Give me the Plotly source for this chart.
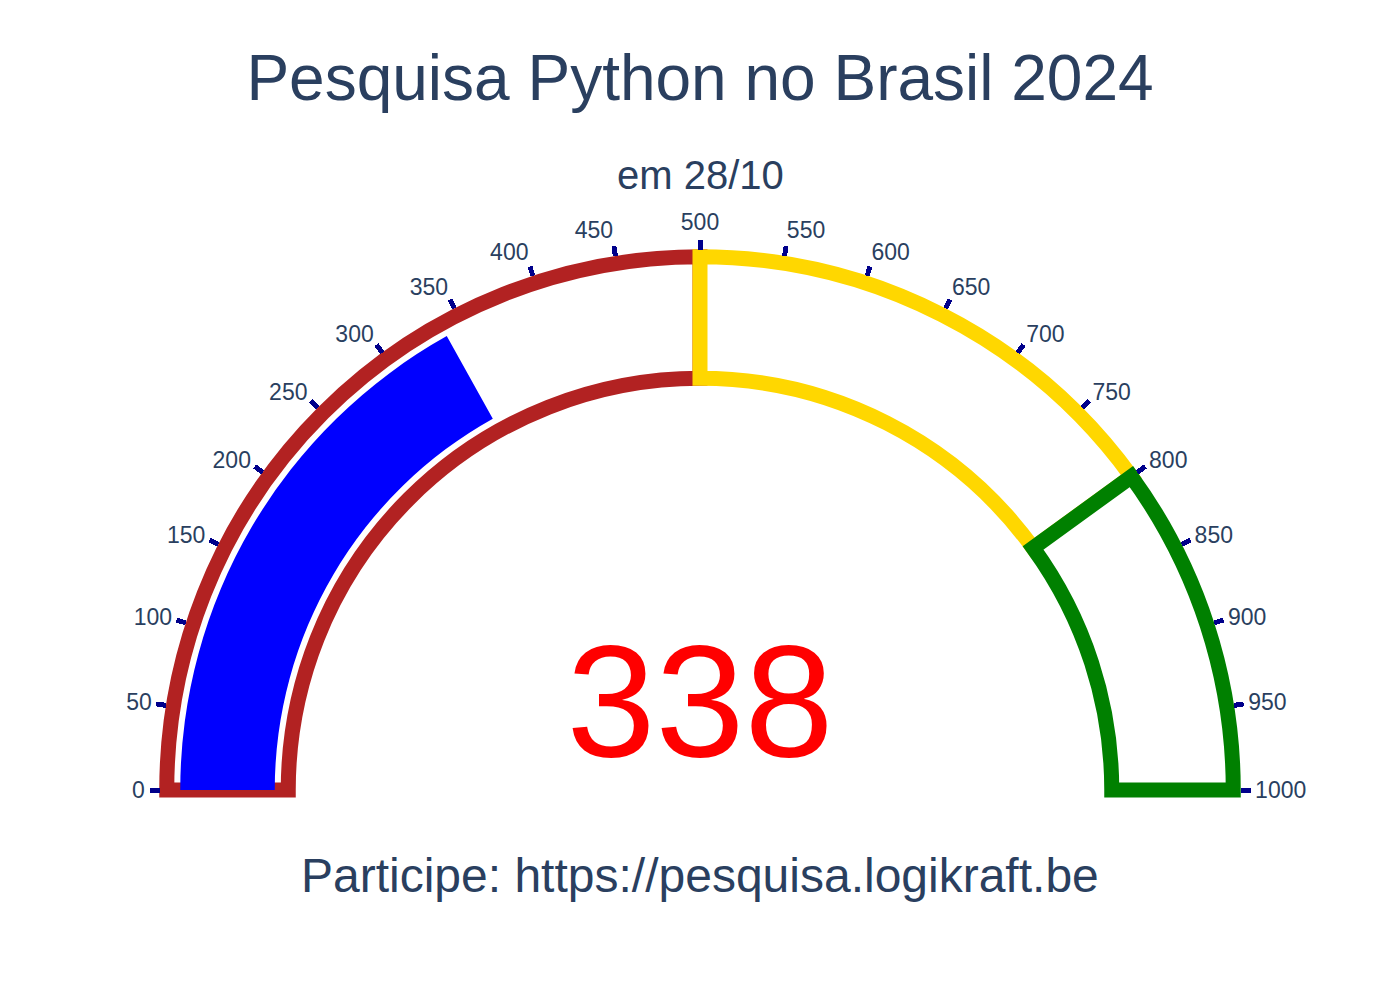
import plotly.graph_objects as go

value = 338
gauge_range = [0, 1000]
step_ranges = [[0, 500], [500, 800], [800, 1000]]
step_colors = ["firebrick", "gold", "green"]
title_text = "Pesquisa Python no Brasil 2024"
subtitle_text = "em 28/10"
footer_text = "Participe: https://pesquisa.logikraft.be"

steps = [dict(range=r, color="white", thickness=0.9, line=dict(color=c, width=15))
         for r, c in zip(step_ranges, step_colors)]

fig = go.Figure(go.Indicator(
    mode="gauge+number",
    value=value,
    number=dict(font=dict(size=160, color="red")),
    gauge=dict(
        axis=dict(range=gauge_range, dtick=50, ticks="outside", ticklen=10,
                  tickwidth=5, tickcolor="darkblue", tickfont=dict(size=23)),
        bar=dict(color="blue", thickness=0.7),
        bgcolor="white",
        borderwidth=0,
        steps=steps,
    ),
))

fig.update_layout(
    width=1384, height=984,
    margin=dict(l=152, r=152, t=140, b=100),
    font=dict(family="Arial, Liberation Sans", color="#2a3f5f"),
    title=dict(text=title_text, x=0.5, xanchor="center", y=0.929, yref="container",
               yanchor="middle", font=dict(size=64)),
    paper_bgcolor="white",
    annotations=[
        dict(text=subtitle_text, x=0.5, y=0.9637, xref="paper", yref="paper",
             xanchor="center", yanchor="middle", showarrow=False,
             font=dict(size=40)),
        dict(text=footer_text, x=0.5, y=0.0228, xref="paper", yref="paper",
             xanchor="center", yanchor="middle", showarrow=False,
             font=dict(size=48)),
    ],
)

fig.write_html("out.html")
